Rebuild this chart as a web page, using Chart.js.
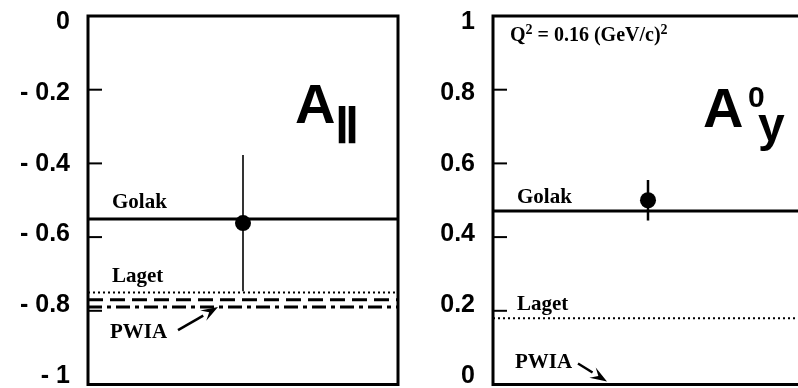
<!DOCTYPE html>
<html>
<head>
<meta charset="utf-8">
<script src="https://cdn.jsdelivr.net/npm/chart.js@4"></script>
<style>
html, body { margin: 0; padding: 0; background: #fff; overflow: hidden; width: 798px; height: 388px; }
#leftChart { position: absolute; left: 0; top: 0; }
#rightChart { position: absolute; left: 405px; top: 0; }
</style>
</head>
<body>
<canvas id="leftChart" width="400" height="388"></canvas>
<canvas id="rightChart" width="400" height="388"></canvas>
<script>
// model curves (flat lines), one value per panel
var models = ['Golak', 'Laget', 'Dashed', 'PWIA'];
var leftModels = [-0.551, -0.75, -0.77, -0.79];
var rightModels = [0.471, 0.18, null, 0];

// measured point with error
var pointX = [0.5];
var leftPoint = [-0.562];
var leftError = [0.185];
var rightPoint = [0.50];
var rightError = [0.055];

var leftTicks = [0, -0.2, -0.4, -0.6, -0.8, -1];
var rightTicks = [1, 0.8, 0.6, 0.4, 0.2, 0];

var lineStyles = [
    { width: 3, dash: [] },
    { width: 2, dash: [2, 3] },
    { width: 3, dash: [15, 7] },
    { width: 3, dash: [14, 5, 4, 5] }
];

var SANS = '"Liberation Sans", Arial, sans-serif';
var SERIF = '"Liberation Serif", "Times New Roman", serif';

var panelDecor = {
    id: 'panelDecor',
    beforeDatasetsDraw: function (chart, args, opts) {
        var ctx = chart.ctx, x = chart.scales.x, y = chart.scales.y;
        var ds = chart.data.datasets[chart.data.datasets.length - 1];
        ctx.save();
        ctx.strokeStyle = '#000';
        ctx.lineWidth = opts.errWidth;
        ds.data.forEach(function (p, i) {
            var px = x.getPixelForValue(p.x);
            ctx.beginPath();
            ctx.moveTo(px, y.getPixelForValue(p.y + ds.errors[i]));
            ctx.lineTo(px, y.getPixelForValue(p.y - ds.errors[i]));
            ctx.stroke();
        });
        ctx.restore();
    },
    afterDraw: function (chart, args, opts) {
        var ctx = chart.ctx, a = chart.chartArea, y = chart.scales.y;
        ctx.save();
        ctx.strokeStyle = '#000';
        ctx.fillStyle = '#000';

        // short ticks inside the frame
        ctx.lineWidth = 2;
        opts.ticks.forEach(function (v) {
            var py = y.getPixelForValue(v);
            ctx.beginPath();
            ctx.moveTo(a.left, py);
            ctx.lineTo(a.left + 14, py);
            ctx.stroke();
        });

        ctx.lineWidth = 3;
        ctx.strokeRect(a.left, a.top, a.right - a.left, a.bottom - a.top);

        // labels; each one is a run of pieces (for superscripts)
        ctx.textBaseline = 'alphabetic';
        ctx.textAlign = 'left';
        opts.texts.forEach(function (t) {
            var px = a.left + t.dx;
            t.parts.forEach(function (p) {
                ctx.font = p[1];
                var py = a.top + t.dy - (p[2] || 0);
                ctx.fillText(p[0], px, py);
                if (t.stroke) {
                    ctx.lineWidth = t.stroke;
                    ctx.strokeText(p[0], px, py);
                }
                px += ctx.measureText(p[0]).width;
            });
        });

        // arrow pointing at the PWIA line
        var ar = opts.arrow;
        var hx = a.left + ar.dx, hy = y.getPixelForValue(ar.value) + ar.dy;
        var tx = hx + ar.tailDx, ty = hy + ar.tailDy;
        var ang = Math.atan2(hy - ty, hx - tx);
        var len = 17, half = 6;
        var bx = hx - len * Math.cos(ang), by = hy - len * Math.sin(ang);
        ctx.lineWidth = 2.5;
        ctx.beginPath();
        ctx.moveTo(tx, ty);
        ctx.lineTo(bx, by);
        ctx.stroke();
        ctx.beginPath();
        ctx.moveTo(hx, hy);
        ctx.lineTo(bx + half * Math.sin(ang), by - half * Math.cos(ang));
        ctx.lineTo(hx - 0.6 * len * Math.cos(ang), hy - 0.6 * len * Math.sin(ang));
        ctx.lineTo(bx - half * Math.sin(ang), by + half * Math.cos(ang));
        ctx.closePath();
        ctx.fill();
        ctx.restore();
    }
};

function buildDatasets(values, point, error) {
    var sets = [];
    values.forEach(function (v, i) {
        if (v === null) return;
        sets.push({
            type: 'line',
            label: models[i],
            data: [{ x: 0, y: v }, { x: 1, y: v }],
            borderColor: '#000',
            borderWidth: lineStyles[i].width,
            borderDash: lineStyles[i].dash,
            pointRadius: 0,
            fill: false
        });
    });
    sets.push({
        type: 'scatter',
        label: 'data',
        data: point.map(function (v, i) { return { x: pointX[i], y: v }; }),
        errors: error,
        pointRadius: 8,
        backgroundColor: '#000',
        borderWidth: 0
    });
    return sets;
}

function makePanel(id, values, point, error, ticks, range, labelRange, fmt, decor) {
    return new Chart(document.getElementById(id), {
        type: 'line',
        data: { datasets: buildDatasets(values, point, error) },
        options: {
            responsive: false,
            animation: false,
            devicePixelRatio: 1,
            layout: { autoPadding: false, padding: { top: 16, bottom: 3.5, left: 0, right: 2 } },
            plugins: {
                legend: { display: false },
                tooltip: { enabled: false },
                panelDecor: decor
            },
            scales: {
                x: { type: 'linear', display: false, min: 0, max: 1 },
                y: { display: false, min: range[0], max: range[1] },
                yl: {
                    position: 'left',
                    min: labelRange[0],
                    max: labelRange[1],
                    afterBuildTicks: function (s) {
                        s.ticks = ticks.map(function (v) { return { value: v }; });
                    },
                    afterFit: function (s) {
                        s.width = 88;
                        s.paddingTop = 0;
                        s.paddingBottom = 0;
                    },
                    grid: { display: false, drawTicks: false },
                    border: { display: false },
                    ticks: {
                        padding: 18,
                        color: '#000',
                        autoSkip: false,
                        font: { family: SANS, size: 25, weight: 'bold' },
                        callback: fmt
                    }
                }
            }
        },
        plugins: [panelDecor]
    });
}

var lab = 'bold 21px ' + SERIF;

makePanel('leftChart', leftModels, leftPoint, leftError, leftTicks,
    [-1, 0], [-1.024, 0.017],
    function (v) { return v < 0 ? '- ' + Math.abs(v) : String(v); },
    {
        errWidth: 1.6,
        ticks: [-0.2, -0.4, -0.6, -0.8],
        texts: [
            { dx: 24, dy: 192, parts: [['Golak', lab]] },
            { dx: 24, dy: 266, parts: [['Laget', lab]] },
            { dx: 22, dy: 322, parts: [['PWIA', lab]] },
            { dx: 207, dy: 107, parts: [['A', 'bold 56px ' + SANS]] },
            { dx: 249, dy: 118, stroke: 2, parts: [['||', 'bold 36px ' + SANS]] }
        ],
        arrow: { value: leftModels[3], dx: 130, dy: 0, tailDx: -40, tailDy: 23 }
    });

var qFont = 'bold 20px ' + SERIF, supFont = 'bold 14px ' + SERIF;

makePanel('rightChart', rightModels, rightPoint, rightError, rightTicks,
    [0, 1], [-0.024, 1.017],
    function (v) { return String(v); },
    {
        errWidth: 2.5,
        ticks: [0.8, 0.6, 0.4, 0.2],
        texts: [
            { dx: 17, dy: 25, parts: [['Q', qFont], ['2', supFont, 7], [' = 0.16 (GeV/c)', qFont], ['2', supFont, 7]] },
            { dx: 24, dy: 187, parts: [['Golak', lab]] },
            { dx: 24, dy: 294, parts: [['Laget', lab]] },
            { dx: 22, dy: 352, parts: [['PWIA', lab]] },
            { dx: 210, dy: 111, parts: [['A', 'bold 56px ' + SANS]] },
            { dx: 255, dy: 91, parts: [['0', 'bold 30px ' + SANS]] },
            { dx: 265, dy: 125, parts: [['y', 'bold 48px ' + SANS]] }
        ],
        arrow: { value: rightModels[3], dx: 114, dy: -3, tailDx: -29, tailDy: -18 }
    });
</script>
</body>
</html>
